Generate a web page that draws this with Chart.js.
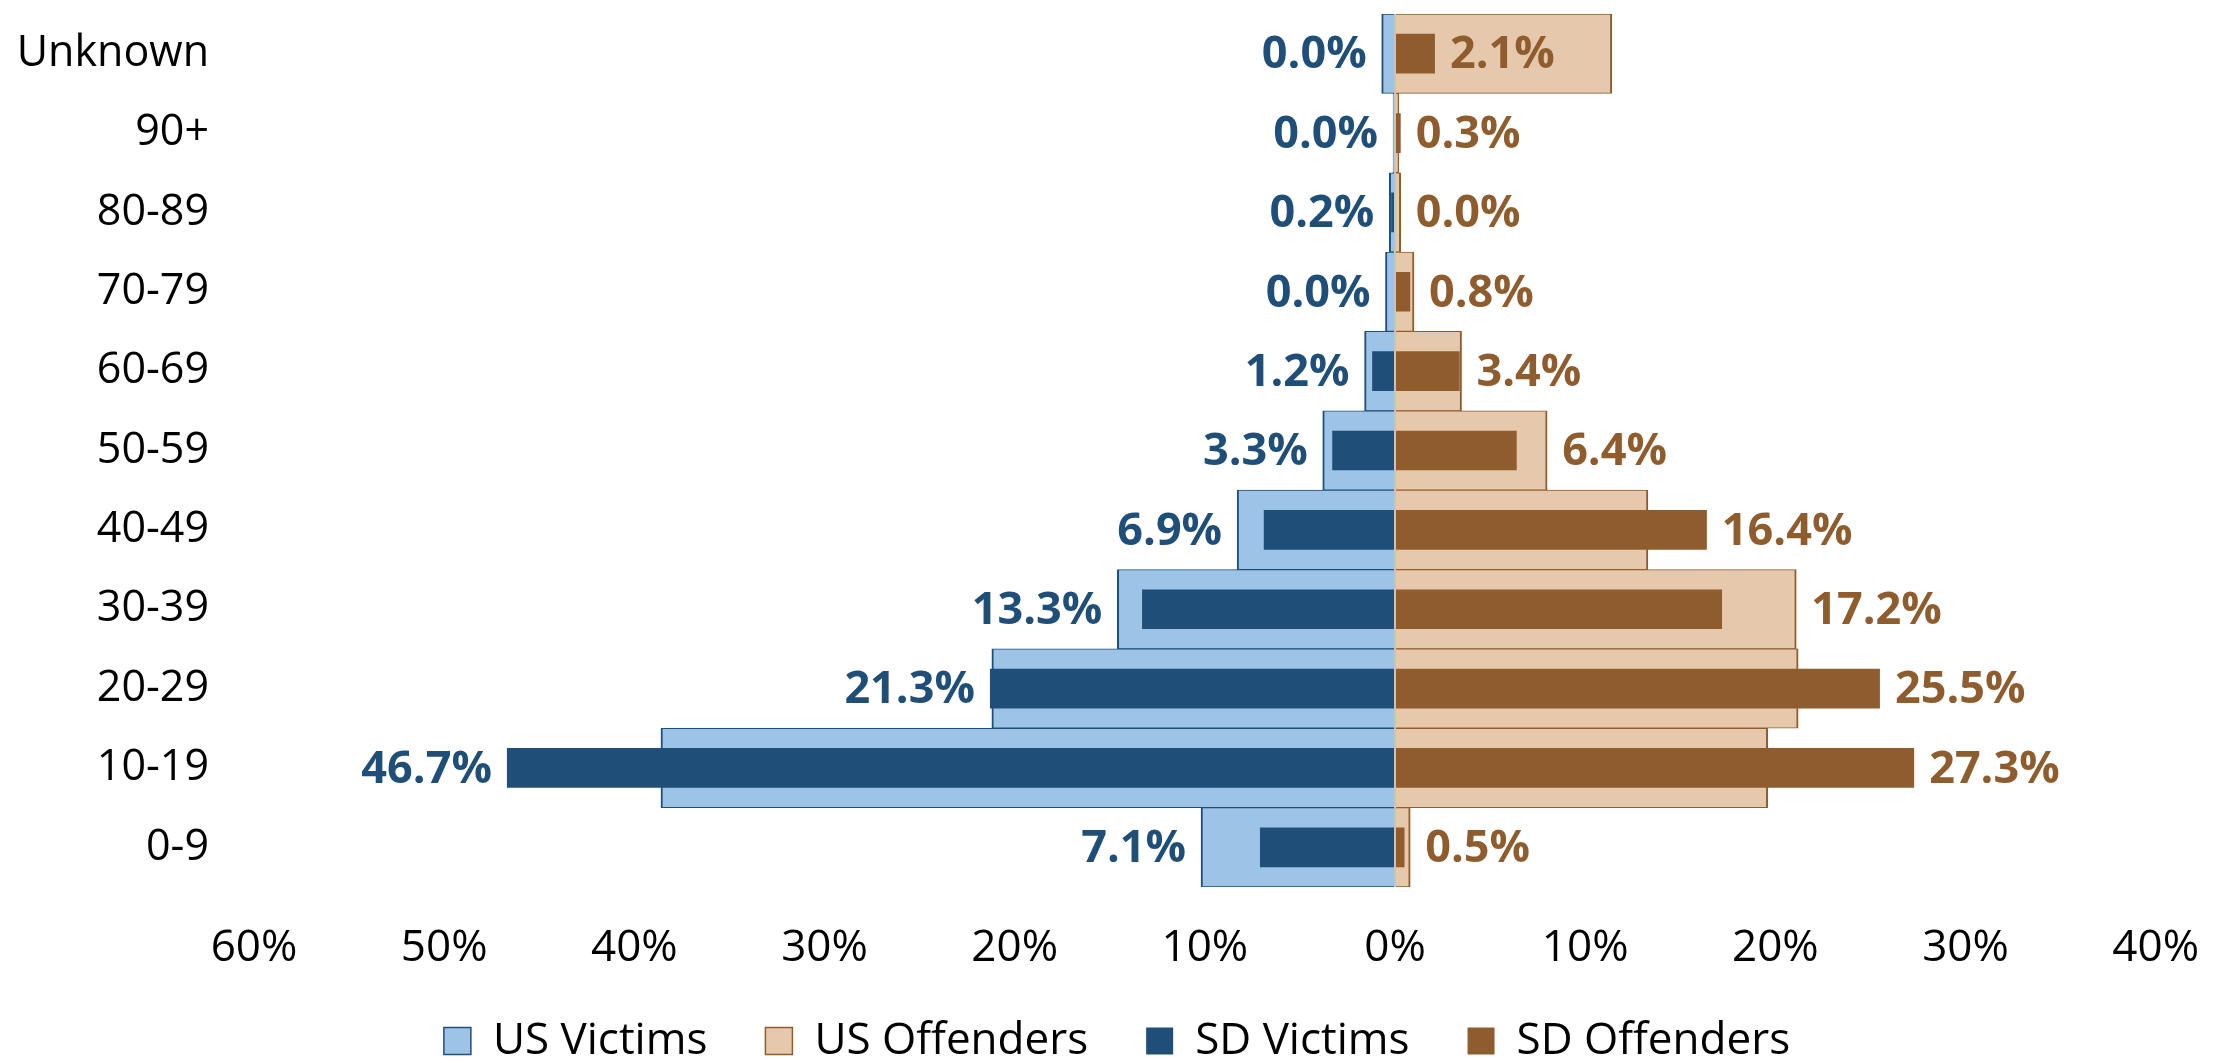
<!DOCTYPE html>
<html lang="en">
<head>
  <meta charset="UTF-8" />
  <title>Age of Victims and Offenders: US vs SD</title>
  <script src="https://cdn.jsdelivr.net/npm/chart.js"></script>
  <style>
    html, body {
      margin: 0;
      padding: 0;
      background: #fff;
      overflow: hidden;
    }
    .chart-box {
      width: 2234px;
      height: 1063px;
    }
  </style>
</head>
<body>
  <div class="chart-box">
    <canvas id="ageChart"></canvas>
  </div>

  <script>
    // ------------------------------------------
    // Data (percent of each group)
    // ------------------------------------------
    const AGE_GROUPS   = ['Unknown', '90+', '80-89', '70-79', '60-69', '50-59', '40-49', '30-39', '20-29', '10-19', '0-9'];
    const US_VICTIMS   = [0.7, 0.1, 0.3, 0.5, 1.6, 3.8, 8.3, 14.6, 21.2, 38.6, 10.2];
    const US_OFFENDERS = [11.4, 0.2, 0.3, 1.0, 3.5, 8.0, 13.3, 21.1, 21.2, 19.6, 0.8];
    const SD_VICTIMS   = [0.0, 0.0, 0.2, 0.0, 1.2, 3.3, 6.9, 13.3, 21.3, 46.7, 7.1];
    const SD_OFFENDERS = [2.1, 0.3, 0.0, 0.8, 3.4, 6.4, 16.4, 17.2, 25.5, 27.3, 0.5];
    const X_MIN = -60;
    const X_MAX = 40;

    const DARK_BLUE  = '#1F4E79';
    const LIGHT_BLUE = '#9DC3E6';
    const BROWN      = '#8F5C2E';
    const TAN        = '#E6C9AD';
    const FONT       = '"Open Sans", sans-serif';

    // victims go to the left of zero
    const neg = arr => arr.map(v => -v);

    // ------------------------------------------
    // Value labels for the SD series (no datalabels plugin offline)
    // ------------------------------------------
    const valueLabels = {
      id: 'valueLabels',
      afterDatasetsDraw(chart) {
        const ctx = chart.ctx;
        ctx.save();
        ctx.font = 'bold 45px ' + FONT;
        ctx.textBaseline = 'middle';
        // [sd dataset, us dataset, colour, direction]
        [[2, 0, DARK_BLUE, -1], [3, 1, BROWN, 1]].forEach(([sd, us, color, dir]) => {
          const sdBars = chart.getDatasetMeta(sd).data;
          const usBars = chart.getDatasetMeta(us).data;
          sdBars.forEach((bar, i) => {
            const sdVal = Math.abs(chart.data.datasets[sd].data[i]);
            const usVal = Math.abs(chart.data.datasets[us].data[i]);
            // put the label past the longer bar, unless the US bar is much longer
            const edge = (usVal > sdVal && usVal - sdVal < 5) ? usBars[i].x : bar.x;
            ctx.fillStyle = color;
            ctx.textAlign = dir < 0 ? 'right' : 'left';
            ctx.fillText(sdVal.toFixed(1) + '%', edge + dir * 15, bar.y + 2);
          });
        });
        ctx.restore();
      }
    };

    // the legend keeps a small layout height; its items sit near the bottom edge
    const legendNudge = {
      id: 'legendNudge',
      afterLayout(chart) {
        chart.legend.top = chart.legend.bottom - 102;
      }
    };

    // ------------------------------------------
    // Chart
    // ------------------------------------------
    Chart.defaults.font.family = FONT;
    Chart.defaults.color = '#000';

    const usBorder = { top: 1, bottom: 1, left: 2, right: 2 };

    new Chart(document.getElementById('ageChart'), {
      type: 'bar',
      data: {
        labels: AGE_GROUPS,
        datasets: [
          {
            label: 'US Victims',
            data: neg(US_VICTIMS),
            backgroundColor: LIGHT_BLUE,
            borderColor: DARK_BLUE,
            borderWidth: usBorder,
            barPercentage: 1,
            categoryPercentage: 1,
            grouped: false,
            order: 2
          },
          {
            label: 'US Offenders',
            data: US_OFFENDERS,
            backgroundColor: TAN,
            borderColor: BROWN,
            borderWidth: usBorder,
            barPercentage: 1,
            categoryPercentage: 1,
            grouped: false,
            order: 2
          },
          {
            label: 'SD Victims',
            data: neg(SD_VICTIMS),
            backgroundColor: DARK_BLUE,
            borderWidth: 0,
            barPercentage: 0.5,
            categoryPercentage: 1,
            grouped: false,
            order: 1
          },
          {
            label: 'SD Offenders',
            data: SD_OFFENDERS,
            backgroundColor: BROWN,
            borderWidth: 0,
            barPercentage: 0.5,
            categoryPercentage: 1,
            grouped: false,
            order: 1
          }
        ]
      },
      options: {
        indexAxis: 'y',
        responsive: true,
        maintainAspectRatio: false,
        animation: false,
        layout: {
          padding: { left: 0, right: 0, top: 14, bottom: 0 }
        },
        scales: {
          x: {
            min: X_MIN,
            max: X_MAX,
            z: 1,
            border: { display: false },
            grid: {
              drawTicks: false,
              lineWidth: 2,
              color: c => (c.tick && c.tick.value === 0) ? '#BCC6D0' : 'rgba(0,0,0,0)'
            },
            ticks: {
              stepSize: 10,
              padding: 35,
              font: { size: 44 },
              callback: v => Math.abs(v) + '%'
            },
            afterFit: scale => { scale.height = 86; }
          },
          y: {
            border: { display: false },
            grid: { display: false, drawTicks: true, tickLength: 45 },
            ticks: {
              padding: 0,
              font: { size: 43, lineHeight: 0.6 }
            },
            afterFit: scale => { scale.width = 254; }
          }
        },
        plugins: {
          legend: {
            position: 'bottom',
            maxHeight: 90,
            labels: {
              boxWidth: 27,
              boxHeight: 27,
              padding: 58,
              font: { size: 44 },
              sort: (a, b) => a.datasetIndex - b.datasetIndex
            }
          },
          tooltip: { enabled: false }
        }
      },
      plugins: [valueLabels, legendNudge]
    });
  </script>
</body>
</html>
